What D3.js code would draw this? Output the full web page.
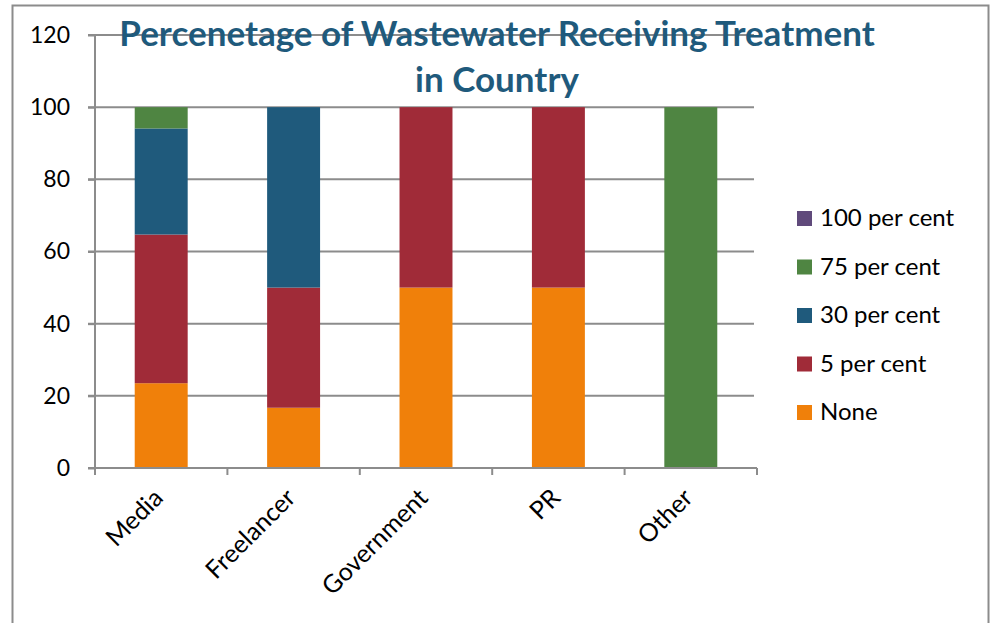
<!DOCTYPE html>
<html>
<head>
<meta charset="utf-8">
<script src="https://cdn.jsdelivr.net/npm/d3@7/dist/d3.min.js"></script>
<style>
  html, body { margin: 0; padding: 0; background: #fff; }
  svg { display: block; font-family: Lato, "Open Sans", sans-serif; }
</style>
</head>
<body>
<svg id="chart" width="990" height="623"></svg>
<script>
// Sector categories along the x axis
const categories = ["Media", "Freelancer", "Government", "PR", "Other"];

// Share of respondents per treatment level (percent), one array per series
const seriesNames = ["None", "5 per cent", "30 per cent", "75 per cent", "100 per cent"];
const none      = [23.5, 16.7, 50, 50, 0];
const pc5       = [41.2, 33.3, 50, 50, 0];
const pc30      = [29.4, 50.0, 0, 0, 0];
const pc75      = [5.9, 0, 0, 0, 100];
const pc100     = [0, 0, 0, 0, 0];
const seriesColors = ["#F0800A", "#A02B38", "#1F5A7C", "#4F8542", "#604A7B"];

const yTicks = [0, 20, 40, 60, 80, 100, 120];
const titleLines = ["Percenetage of Wastewater Receiving Treatment", "in Country"];

const seriesValues = [none, pc5, pc30, pc75, pc100];
const table = categories.map((c, i) => {
  const row = { category: c };
  seriesNames.forEach((s, k) => row[s] = seriesValues[k][i]);
  return row;
});

const svg = d3.select("#chart");

// outer frame
svg.append("rect")
  .attr("x", 12.5).attr("y", 5.5).attr("width", 976).attr("height", 640)
  .attr("fill", "#fff").attr("stroke", "#8c8c8c").attr("stroke-width", 2);

const plot = { left: 95, right: 757, top: 35, bottom: 468 };

const x = d3.scaleBand().domain(categories).range([plot.left, plot.right]).paddingInner(0).paddingOuter(0);
const y = d3.scaleLinear().domain([0, 120]).range([plot.bottom, plot.top]);

const gridColor = "#8c8c8c";

// horizontal gridlines
svg.append("g").selectAll("line").data(yTicks.filter(d => d > 0)).join("line")
  .attr("x1", plot.left - 7).attr("x2", 754)
  .attr("y1", d => y(d)).attr("y2", d => y(d))
  .attr("stroke", gridColor).attr("stroke-width", 2);

// stacked bars
const stack = d3.stack().keys(seriesNames)(table);
const barW = x.bandwidth() * 0.4;
svg.append("g").selectAll("g").data(stack).join("g")
  .attr("fill", (d, i) => seriesColors[i])
  .selectAll("rect").data(d => d.filter(p => p[1] - p[0] > 0)).join("rect")
    .attr("x", d => x(d.data.category) + (x.bandwidth() - barW) / 2)
    .attr("width", barW)
    .attr("y", d => y(d[1]))
    .attr("height", d => y(d[0]) - y(d[1]));

// y axis
const yAxis = svg.append("g").attr("transform", `translate(${plot.left},0)`)
  .call(d3.axisLeft(y).tickValues(yTicks).tickSize(7).tickPadding(18));
yAxis.select(".domain").attr("stroke", gridColor).attr("stroke-width", 2)
  .attr("d", `M0,${plot.top}V${plot.bottom + 7}`);
yAxis.selectAll(".tick line").attr("stroke", gridColor).attr("stroke-width", 2);
yAxis.selectAll(".tick text").attr("font-size", 23).attr("fill", "#000")
  .attr("font-family", "Lato, sans-serif");

// x axis with ticks at band boundaries
const xAxisG = svg.append("g");
xAxisG.append("line")
  .attr("x1", plot.left - 7).attr("x2", plot.right)
  .attr("y1", plot.bottom).attr("y2", plot.bottom)
  .attr("stroke", gridColor).attr("stroke-width", 2);
const boundaries = categories.map(c => x(c)).concat([plot.right]);
xAxisG.selectAll(".xt").data(boundaries).join("line")
  .attr("x1", d => d).attr("x2", d => d)
  .attr("y1", plot.bottom).attr("y2", plot.bottom + 7)
  .attr("stroke", gridColor).attr("stroke-width", 2);
xAxisG.selectAll("text").data(categories).join("text")
  .attr("transform", d => `translate(${x(d) + x.bandwidth() / 2 - 9},${plot.bottom + 19}) rotate(-45)`)
  .attr("text-anchor", "end")
  .attr("dy", "0.7em")
  .attr("font-size", 25)
  .attr("fill", "#000")
  .text(d => d);

// title
svg.append("text")
  .attr("x", 497).attr("y", 46)
  .attr("text-anchor", "middle")
  .attr("font-size", 35).attr("font-weight", "bold")
  .attr("fill", "#1F5A7C")
  .selectAll("tspan").data(titleLines).join("tspan")
    .attr("x", 497).attr("dy", (d, i) => i === 0 ? 0 : 46)
    .text(d => d);

// legend (top entry is the top of the stack)
const legendItems = seriesNames.map((s, i) => ({ name: s, color: seriesColors[i] })).reverse();
const legend = svg.append("g").selectAll("g").data(legendItems).join("g")
  .attr("transform", (d, i) => `translate(797,${218 + i * 48.5})`);
legend.append("rect").attr("x", 0).attr("y", -7).attr("width", 15).attr("height", 15)
  .attr("fill", d => d.color);
legend.append("text").attr("x", 23).attr("y", 0).attr("dy", "0.35em")
  .attr("font-size", 24).attr("fill", "#000").text(d => d.name);
</script>
</body>
</html>
